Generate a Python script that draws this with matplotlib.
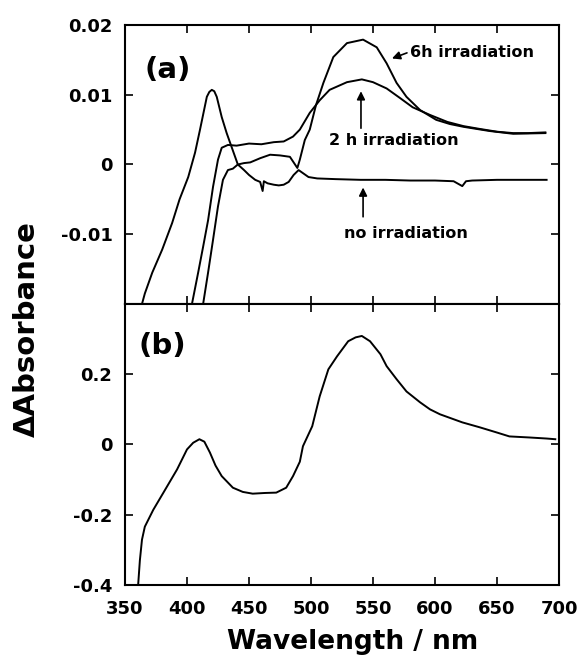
import numpy as np
import matplotlib.pyplot as plt

plt.rcParams['font.family'] = ['DejaVu Sans']
plt.rcParams['font.weight'] = 'bold'

# (a) difference spectra
no_irr_wl = [363.7, 366, 372, 380, 388, 394, 401, 406.5, 410.5, 416,
             418, 420, 422, 424, 428, 432, 436, 441, 446, 450,
             455, 459, 461, 462, 465, 470, 474, 478, 482, 486,
             490, 494, 498, 505, 520, 540, 560, 580, 600, 615,
             622, 625, 630, 650, 670, 690]
no_irr = [-0.02, -0.0185, -0.0155, -0.0122, -0.0084, -0.005, -0.0018, 0.0017, 0.005, 0.0097,
          0.0104, 0.0107, 0.0105, 0.0097, 0.0068, 0.0045, 0.0025, 0.0, -0.0008, -0.0015,
          -0.0022, -0.0025, -0.0038, -0.0024, -0.0027, -0.0029, -0.0030, -0.0029, -0.0025, -0.0015,
          -0.0008, -0.0013, -0.0018, -0.002, -0.0021, -0.0022, -0.0022, -0.0023, -0.0023, -0.0024,
          -0.0031, -0.0024, -0.0023, -0.0022, -0.0022, -0.0022]

two_h_wl = [404, 409, 413, 417, 421, 425, 428, 433, 440, 450,
            460, 470, 478, 485.5, 491, 499, 507, 515, 529, 541,
            550, 561, 572, 582, 596, 610, 623, 636, 650, 663,
            675, 689]
two_h = [-0.02, -0.0155, -0.0118, -0.008, -0.0032, 0.0007, 0.0024, 0.0028, 0.0027, 0.003,
         0.0029, 0.0032, 0.0033, 0.004, 0.005, 0.0074, 0.0092, 0.0107, 0.0118, 0.0122,
         0.0118, 0.0109, 0.0095, 0.0082, 0.0071, 0.0061, 0.0055, 0.0051, 0.0047, 0.0045,
         0.0045, 0.0046]

six_h_wl = [413, 417, 421, 425, 429, 433, 437, 441, 446, 451,
            459, 467, 475, 483, 489, 491, 495, 499, 504, 510,
            518, 529, 542, 553, 561, 569, 577, 588, 601, 612,
            623, 644, 663, 689]
six_h = [-0.02, -0.0155, -0.0108, -0.006, -0.0022, -0.0008, -0.0006, 0.0, 0.0002, 0.0003,
         0.0009, 0.0014, 0.0013, 0.0011, -0.0005, 0.0007, 0.0035, 0.005, 0.0085, 0.0117,
         0.0154, 0.0174, 0.0179, 0.0168, 0.0145, 0.0117, 0.0097, 0.0078, 0.0064, 0.0058,
         0.0054, 0.0048, 0.0044, 0.0045]

# (b)
diff_wl = [360.6, 362, 363.7, 366, 372.8, 381, 392, 400, 405, 410,
           414, 418.5, 423, 428, 437, 445, 453, 463, 472, 480,
           485.5, 491, 493.5, 501, 507, 514, 521, 530, 536, 541,
           547.6, 556, 561, 569, 577, 588, 596, 604, 622, 636,
           650, 660, 676, 690, 697]
diff = [-0.4, -0.33, -0.271, -0.234, -0.186, -0.137, -0.071, -0.014, 0.005, 0.015,
        0.008, -0.023, -0.06, -0.09, -0.123, -0.135, -0.14, -0.138, -0.137, -0.123,
        -0.09, -0.049, -0.005, 0.052, 0.137, 0.214, 0.251, 0.294, 0.305, 0.309,
        0.294, 0.257, 0.223, 0.186, 0.151, 0.12, 0.1, 0.086, 0.063, 0.049,
        0.034, 0.023, 0.02, 0.017, 0.015]

x_ticks = [350, 400, 450, 500, 550, 600, 650, 700]
a_ticks = [-0.01, 0, 0.01, 0.02]
a_labels = ['-0.01', '0', '0.01', '0.02']
b_ticks = [-0.4, -0.2, 0, 0.2]
b_labels = ['-0.4', '-0.2', '0', '0.2']

fig = plt.figure(figsize=(5.8, 6.59), dpi=100)
ax1 = fig.add_axes([0.2155, 0.5387, 0.7483, 0.4234])
ax2 = fig.add_axes([0.2155, 0.1123, 0.7483, 0.4264])

for ax in (ax1, ax2):
    ax.set_xlim(350, 700)
    ax.set_xticks(x_ticks)
    ax.tick_params(direction='in', top=True, right=True, length=6, width=1.2,
                   labelsize=13, pad=9)
    for s in ax.spines.values():
        s.set_linewidth(1.5)

ax1.plot(no_irr_wl, no_irr, color='black', lw=1.4)
ax1.plot(two_h_wl, two_h, color='black', lw=1.4)
ax1.plot(six_h_wl, six_h, color='black', lw=1.4)
ax1.set_ylim(-0.02, 0.02)
ax1.set_yticks(a_ticks)
ax1.set_yticklabels(a_labels)
ax1.set_xticklabels([])

ax2.plot(diff_wl, diff, color='black', lw=1.4)
ax2.set_ylim(-0.4, 0.4)
ax2.set_yticks(b_ticks)
ax2.set_yticklabels(b_labels)
ax2.tick_params(axis='x', pad=11)

ax1.text(384.5, 0.0135, '(a)', fontsize=21, fontweight='bold', ha='center', va='center')
ax2.text(380.5, 0.281, '(b)', fontsize=21, fontweight='bold', ha='center', va='center')

arrow = dict(arrowstyle='-|>', color='black', lw=1.2, mutation_scale=12,
             shrinkA=0, shrinkB=0)
ax1.text(580, 0.0161, '6h irradiation', fontsize=11.5, fontweight='bold',
         ha='left', va='center')
ax1.annotate('', xy=(565.3, 0.0152), xytext=(577.4, 0.016), arrowprops=arrow)
ax1.text(567, 0.0035, '2 h irradiation', fontsize=11.5, fontweight='bold',
         ha='center', va='center')
ax1.annotate('', xy=(540.3, 0.0105), xytext=(540.3, 0.0052), arrowprops=arrow)
ax1.text(576.6, -0.0099, 'no irradiation', fontsize=11.5, fontweight='bold',
         ha='center', va='center')
ax1.annotate('', xy=(542, -0.0033), xytext=(542, -0.0075), arrowprops=arrow)

fig.text(0.047, 0.5, '\u0394Absorbance', fontsize=21, fontweight='bold',
         rotation=90, ha='center', va='center')
fig.text(0.608, 0.006, 'Wavelength / nm', fontsize=19, fontweight='bold',
         ha='center', va='bottom')

fig.savefig('out.png', dpi=100)
